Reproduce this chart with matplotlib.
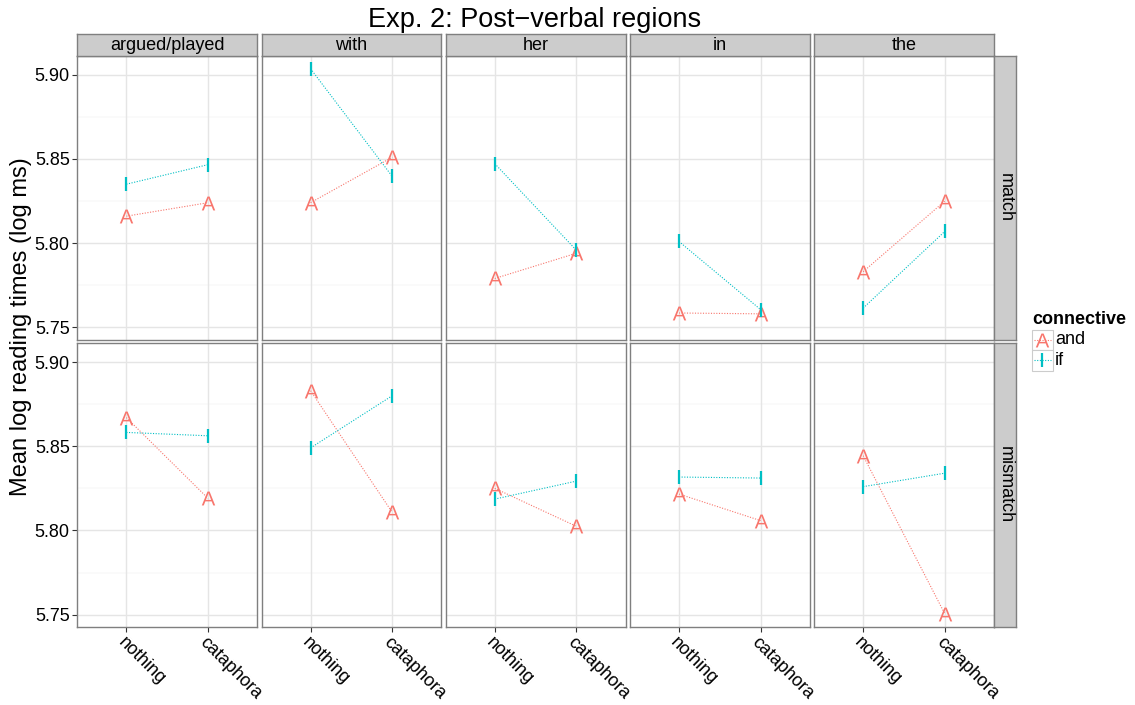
import matplotlib
matplotlib.use('Agg')
import matplotlib.pyplot as plt
import numpy as np
from matplotlib.textpath import TextPath
from matplotlib.font_manager import FontProperties
from matplotlib.markers import MarkerStyle
from matplotlib.patches import Rectangle
from matplotlib.lines import Line2D
from matplotlib.path import Path

plt.rcParams['font.family'] = ['Liberation Sans', 'DejaVu Sans']

# ---------------- data ----------------
regions = ['argued/played', 'with', 'her', 'in', 'the']
conditions = ['match', 'mismatch']
positions = ['nothing', 'cataphora']
connectives = ['and', 'if']
yticks = [5.75, 5.80, 5.85, 5.90]
ytick_labels = ['5.75', '5.80', '5.85', '5.90']

# each entry: [nothing, cataphora] per region
match_and = [[5.816, 5.824], [5.824, 5.851], [5.779, 5.794], [5.7585, 5.758], [5.783, 5.825]]
match_if = [[5.835, 5.8466], [5.9036, 5.8396], [5.8472, 5.7957], [5.801, 5.7605], [5.7614, 5.807]]
mismatch_and = [[5.867, 5.819], [5.883, 5.8107], [5.825, 5.8024], [5.8216, 5.8058], [5.8444, 5.7504]]
mismatch_if = [[5.8582, 5.8562], [5.849, 5.880], [5.8186, 5.8293], [5.8317, 5.8311], [5.826, 5.834]]

data = {('match', 'and'): match_and, ('match', 'if'): match_if,
        ('mismatch', 'and'): mismatch_and, ('mismatch', 'if'): mismatch_if}

colors = {'and': '#F8766D', 'if': '#00BFC4'}

# ---------------- styling ----------------
W, H = 1135, 705
fig = plt.figure(figsize=(W / 100, H / 100), dpi=100)

def axes_px(l, t, r, b, **kw):
    return fig.add_axes([l / W, 1 - b / H, (r - l) / W, (b - t) / H], **kw)

fp = FontProperties(family='Liberation Sans')
tp = TextPath((0, 0), 'A', size=1, prop=fp)
ext = tp.get_extents()
verts = tp.vertices.copy()
verts[:, 0] -= (ext.x0 + ext.x1) / 2
verts[:, 1] -= (ext.y0 + ext.y1) / 2
A_marker = MarkerStyle(Path(verts, tp.codes))

markers = {'and': dict(marker=A_marker, ms=10, mew=0),
           'if': dict(marker='|', ms=9.6, mew=1.6)}

grey50 = '#7F7F7F'
col_left = 77.3
col_w = 179.8
col_gap = 4.4
row_tops = [55.7, 343.0]
row_h = 283.9
ylim = (5.7427, 5.9113)
xs = np.array([1, 2])

for r, cond in enumerate(conditions):
    t = row_tops[r]
    b = t + row_h
    for c, reg in enumerate(regions):
        l = col_left + c * (col_w + col_gap)
        ax = axes_px(l, t, l + col_w, b)
        ax.set_facecolor('white')
        ax.set_xlim(0.4, 2.6)
        ax.set_ylim(*ylim)
        ax.set_yticks(yticks)
        ax.set_yticks([5.775, 5.825, 5.875], minor=True)
        ax.set_xticks(xs)
        for yv in [5.775, 5.825, 5.875]:
            ax.axhline(yv, color='#FAFAFA', lw=1.4, zorder=0)
        for yv in yticks:
            ax.axhline(yv, color='#E5E5E5', lw=1.0, zorder=0.5)
        for xv in xs:
            ax.axvline(xv, color='#E5E5E5', lw=1.0, zorder=0.5)
        ax.tick_params(which='minor', length=0)
        ax.tick_params(which='major', length=3.4, width=0.8, color='#333333',
                       labelsize=13, pad=2, labelcolor='black')
        for sp in ax.spines.values():
            sp.set_color(grey50)
            sp.set_linewidth(1.0)
        for con in connectives:
            vals = data[(cond, con)][c]
            ax.plot(xs, vals, ls=(0, (1, 1.4)), lw=0.8, color=colors[con], zorder=2)
            ax.plot(xs, vals, ls='none', color=colors[con], zorder=3, **markers[con])
        if c == 0:
            ax.set_yticklabels(ytick_labels)
        else:
            ax.tick_params(axis='y', which='both', left=False, labelleft=False)
        if r == len(conditions) - 1:
            ax.set_xticklabels(positions)
            for lab in ax.get_xticklabels():
                lab.set_rotation(-45)
                lab.set_ha('left')
                lab.set_va('top')
                lab.set_rotation_mode('anchor')
        else:
            ax.tick_params(axis='x', which='both', bottom=False, labelbottom=False)
        # top strip
        if r == 0:
            sax = axes_px(l, 34.3, l + col_w, 55.7)
            sax.set_facecolor('#CCCCCC')
            sax.set_xticks([]); sax.set_yticks([])
            for sp in sax.spines.values():
                sp.set_color(grey50); sp.set_linewidth(1.0)
            sax.text(0.5, 0.5, reg, transform=sax.transAxes, ha='center', va='center',
                     fontsize=13, color='black')
    # right strip
    l5 = col_left + 4 * (col_w + col_gap) + col_w
    rax = axes_px(l5, t, l5 + 22, b)
    rax.set_facecolor('#CCCCCC')
    rax.set_xticks([]); rax.set_yticks([])
    for sp in rax.spines.values():
        sp.set_color(grey50); sp.set_linewidth(1.0)
    rax.text(0.5, 0.5, cond, transform=rax.transAxes, ha='center', va='center',
             rotation=-90, fontsize=13, color='black')

# titles
fig.text(535 / W, 1 - 20 / H, 'Exp. 2: Post\u2212verbal regions', ha='center', va='center',
         fontsize=19.5)
fig.text(21 / W, 1 - 327 / H, 'Mean log reading times (log ms)', ha='center', va='center',
         rotation=90, fontsize=17)

# legend (manual, ggplot style)
fig.text(1032 / W, 1 - 320 / H, 'connective', ha='left', va='center', fontsize=13,
         fontweight='bold')
key_top = 329.5
key_size = 20.6
for i, con in enumerate(connectives):
    kt = key_top + i * key_size
    rect = Rectangle((1032 / W, 1 - (kt + key_size) / H), key_size / W, key_size / H,
                     transform=fig.transFigure, facecolor='white', edgecolor='#CCCCCC', lw=0.8)
    fig.add_artist(rect)
    cy = 1 - (kt + key_size / 2) / H
    fig.add_artist(Line2D([1033.5 / W, (1032 + key_size - 1.5) / W], [cy, cy],
                          transform=fig.transFigure, ls=(0, (1, 1.4)), lw=0.8,
                          color=colors[con]))
    fig.add_artist(Line2D([(1032 + key_size / 2) / W], [cy], transform=fig.transFigure,
                          ls='none', color=colors[con], **markers[con]))
    fig.text(1055 / W, cy, con, ha='left', va='center', fontsize=13)

fig.savefig('out.png', dpi=100)
